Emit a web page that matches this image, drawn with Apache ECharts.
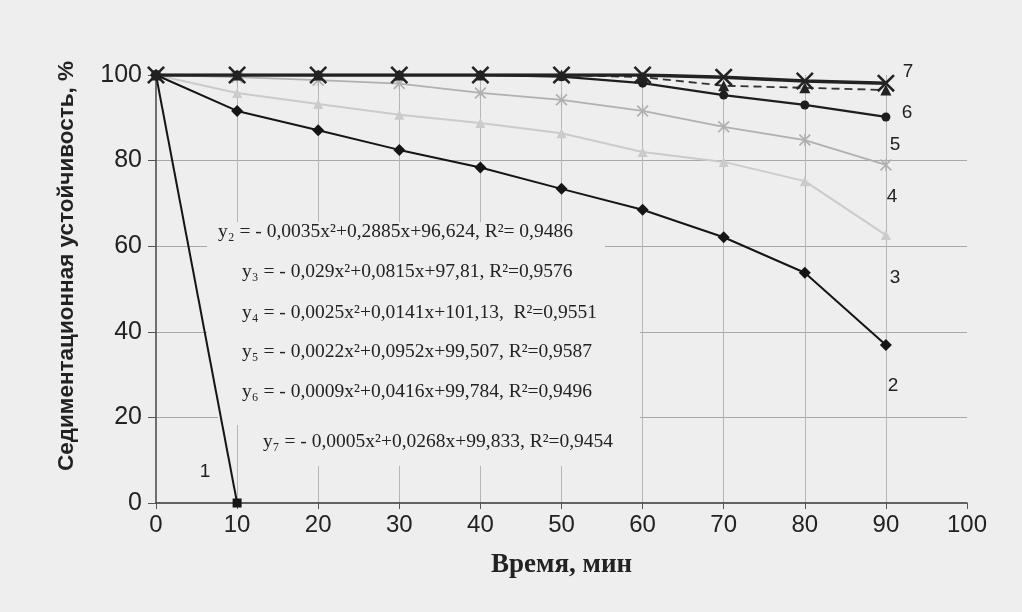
<!DOCTYPE html>
<html>
<head>
<meta charset="utf-8">
<script src="https://cdn.jsdelivr.net/npm/echarts@6/dist/echarts.min.js"></script>
<style>html,body{margin:0;padding:0;background:#eeeeee;}#c{width:1022px;height:612px;}</style>
</head>
<body>
<div id="c"></div>
<script>
// ---- data ----
const times = [0, 10, 20, 30, 40, 50, 60, 70, 80, 90];
const series1 = [100, 0];                 // only 0 and 10 min
const series2 = [100, 91.6, 87.1, 82.5, 78.4, 73.4, 68.5, 62.1, 53.8, 36.9];
const series3 = [100, 95.8, 93.2, 90.7, 88.8, 86.4, 82.0, 79.7, 75.2, 62.6];
const series4 = [100, 99.5, 98.8, 98.0, 95.8, 94.2, 91.6, 87.9, 84.8, 79.0];
const series5 = [100, 100, 100, 100, 100, 99.6, 98.1, 95.3, 93.0, 90.2];
const series6 = [100, 100, 100, 100, 100, 100, 99.5, 97.5, 97.0, 96.5];
const series7 = [100, 100, 100, 100, 100, 100, 100, 99.5, 98.6, 98.1];
const xTicks = [0, 10, 20, 30, 40, 50, 60, 70, 80, 90, 100];
const yTicks = [0, 20, 40, 60, 80, 100];
const equations = [
  'y₂ = - 0,0035x²+0,2885x+96,624, R²= 0,9486',
  'y₃ = - 0,029x²+0,0815x+97,81, R²=0,9576',
  'y₄ = - 0,0025x²+0,0141x+101,13,  R²=0,9551',
  'y₅ = - 0,0022x²+0,0952x+99,507, R²=0,9587',
  'y₆ = - 0,0009x²+0,0416x+99,784, R²=0,9496',
  'y₇ = - 0,0005x²+0,0268x+99,833, R²=0,9454'
];
const curveLabels = ['1', '2', '3', '4', '5', '6', '7'];

function pairs(vals) { return vals.map((v, i) => [times[i], v]); }

const X_PATH = 'path://M1,0L5,4L9,0L10,1L6,5L10,9L9,10L5,6L1,10L0,9L4,5L0,1Z';
const STAR_PATH = 'path://M1,0L5,4L9,0L10,1L6,5L10,9L9,10L5,6L1,10L0,9L4,5L0,1Z M4.5,0L5.5,0L5.5,10L4.5,10Z';

const chart = echarts.init(document.getElementById('c'));
const bg = '#eeeeee';

const eqPos = [[218, 232], [242, 272], [242, 313], [242, 352], [242, 392], [263, 442]];
const lblPos = [[205, 472], [893, 386], [895, 278], [892, 197], [895, 145], [907, 113], [908, 72]];

const graphics = [];
// background boxes of the equation text boxes (hide grid lines)
graphics.push({type: 'rect', z: 1, shape: {x: 207, y: 222, width: 398, height: 113}, style: {fill: bg}, silent: true});
graphics.push({type: 'rect', z: 1, shape: {x: 218, y: 295, width: 422, height: 130}, style: {fill: bg}, silent: true});
graphics.push({type: 'rect', z: 1, shape: {x: 245, y: 420, width: 380, height: 46}, style: {fill: bg}, silent: true});
equations.forEach((t, i) => {
  graphics.push({type: 'text', z: 5, x: eqPos[i][0], y: eqPos[i][1],
    style: {text: t, font: '19.5px "Liberation Serif", "DejaVu Serif", serif', fill: '#222',
      textAlign: 'left', textVerticalAlign: 'middle'}});
});
curveLabels.forEach((t, i) => {
  graphics.push({type: 'text', z: 5, x: lblPos[i][0], y: lblPos[i][1],
    style: {text: t, font: '19px "Liberation Sans", Arial, sans-serif', fill: '#222',
      textAlign: 'center', textVerticalAlign: 'middle'}});
});
graphics.push({type: 'text', z: 5, x: 67, y: 266, rotation: Math.PI / 2,
  style: {text: 'Седиментационная устойчивость, %', font: 'bold 22.5px "Liberation Sans", Arial, sans-serif',
    fill: '#222', textAlign: 'center', textVerticalAlign: 'middle'}});

const option = {
  backgroundColor: bg,
  animation: false,
  grid: {left: 156, right: 55, top: 75, bottom: 109, containLabel: false},
  xAxis: {
    type: 'value', min: 0, max: 100, interval: 10,
    name: 'Время, мин', nameLocation: 'middle', nameGap: 49,
    nameTextStyle: {fontFamily: '"Liberation Serif", serif', fontWeight: 'bold', fontSize: 27, color: '#222'},
    axisLine: {show: true, onZero: false, lineStyle: {color: '#333', width: 1.5}},
    axisTick: {show: true, length: 6, lineStyle: {color: '#555'}},
    axisLabel: {fontFamily: '"Liberation Sans", Arial, sans-serif', fontSize: 24, color: '#222', margin: 10,
      formatter: v => xTicks.includes(v) ? String(v) : ''},
    splitLine: {show: true, showMaxLine: false, showMinLine: false, lineStyle: {color: '#b5b5b5', width: 1}}
  },
  yAxis: {
    type: 'value', min: 0, max: 100, interval: 20,
    axisLine: {show: true, onZero: false, lineStyle: {color: '#444', width: 1.5}},
    axisTick: {show: true, length: 8, lineStyle: {color: '#555'}},
    axisLabel: {fontFamily: '"Liberation Sans", Arial, sans-serif', fontSize: 25, color: '#222', margin: 14,
      formatter: v => yTicks.includes(v) ? String(v) : ''},
    splitLine: {show: true, showMaxLine: false, showMinLine: false, lineStyle: {color: '#a8a8a8', width: 1}}
  },
  graphic: graphics,
  series: [
    {name: '3', type: 'line', z: 2, data: pairs(series3), symbol: 'triangle', symbolSize: 10,
      lineStyle: {color: '#cbcbcb', width: 2}, itemStyle: {color: '#cbcbcb'}},
    {name: '4', type: 'line', z: 2, data: pairs(series4), symbol: STAR_PATH, symbolSize: 12,
      lineStyle: {color: '#b0b0b0', width: 1.8}, itemStyle: {color: '#b0b0b0'}},
    {name: '2', type: 'line', z: 3, data: pairs(series2), symbol: 'diamond', symbolSize: 12,
      lineStyle: {color: '#151515', width: 2}, itemStyle: {color: '#151515'}},
    {name: '1', type: 'line', z: 3, data: pairs(series1), symbol: 'rect', symbolSize: 9,
      lineStyle: {color: '#151515', width: 2}, itemStyle: {color: '#151515'}},
    {name: '5', type: 'line', z: 3, data: pairs(series5), symbol: 'circle', symbolSize: 9,
      lineStyle: {color: '#1e1e1e', width: 2.2}, itemStyle: {color: '#1e1e1e'}},
    {name: '6', type: 'line', z: 3, data: pairs(series6), symbol: 'triangle', symbolSize: 11,
      lineStyle: {color: '#333', width: 1.8, type: [8, 5]}, itemStyle: {color: '#222'}},
    {name: '7', type: 'line', z: 4, data: pairs(series7), symbol: X_PATH, symbolSize: 18,
      lineStyle: {color: '#222', width: 3.5}, itemStyle: {color: '#222'}}
  ]
};
chart.setOption(option);
</script>
</body>
</html>
